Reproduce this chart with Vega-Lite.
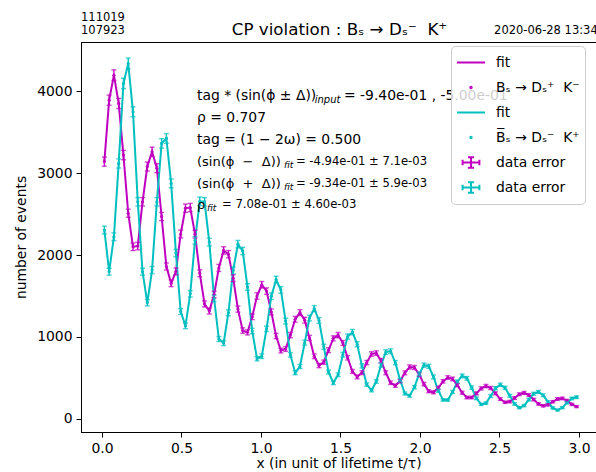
{
"$schema": "https://vega.github.io/schema/vega-lite/v6.json",
"width": 515, "height": 390,
"autosize": "none",
"padding": {"left": 81, "top": 42, "right": 0, "bottom": 40},
"background": "white",
"config": {
 "font": "DejaVu Sans",
 "view": {"stroke": "black", "strokeWidth": 1},
 "axis": {"domainColor": "black", "tickColor": "black", "labelColor": "black", "titleColor": "black", "labelFontSize": 13.9, "titleFontSize": 13.9, "titleFontWeight": "normal", "tickSize": 5, "labelPadding": 4, "grid": false, "domainWidth": 1, "tickWidth": 1, "labelFont": "DejaVu Sans", "titleFont": "DejaVu Sans"}
},
"datasets": {
 "pts": [
{"s":"m","t":0.015,"v":3140,"e":56},{"s":"m","t":0.045,"v":3890,"e":62},{"s":"m","t":0.075,"v":4195,"e":65},{"s":"m","t":0.105,"v":3850,"e":62},{"s":"m","t":0.135,"v":3220,"e":57},{"s":"m","t":0.165,"v":2510,"e":50},{"s":"m","t":0.195,"v":2100,"e":46},{"s":"m","t":0.225,"v":2110,"e":46},{"s":"m","t":0.255,"v":2650,"e":51},{"s":"m","t":0.285,"v":3080,"e":55},
{"s":"m","t":0.315,"v":3260,"e":57},{"s":"m","t":0.345,"v":3060,"e":55},{"s":"m","t":0.375,"v":2470,"e":50},{"s":"m","t":0.405,"v":1860,"e":43},{"s":"m","t":0.435,"v":1655,"e":41},{"s":"m","t":0.465,"v":1800,"e":42},{"s":"m","t":0.495,"v":2257,"e":48},{"s":"m","t":0.525,"v":2572,"e":51},{"s":"m","t":0.555,"v":2579,"e":51},{"s":"m","t":0.585,"v":2255,"e":47},
{"s":"m","t":0.615,"v":1777,"e":42},{"s":"m","t":0.645,"v":1403,"e":37},{"s":"m","t":0.675,"v":1316,"e":36},{"s":"m","t":0.705,"v":1519,"e":39},{"s":"m","t":0.735,"v":1842,"e":43},{"s":"m","t":0.765,"v":2056,"e":45},{"s":"m","t":0.795,"v":2010,"e":45},{"s":"m","t":0.825,"v":1718,"e":41},{"s":"m","t":0.855,"v":1340,"e":37},{"s":"m","t":0.885,"v":1078,"e":33},
{"s":"m","t":0.915,"v":1056,"e":32},{"s":"m","t":0.945,"v":1247,"e":35},{"s":"m","t":0.975,"v":1500,"e":39},{"s":"m","t":1.005,"v":1637,"e":40},{"s":"m","t":1.035,"v":1560,"e":39},{"s":"m","t":1.065,"v":1305,"e":36},{"s":"m","t":1.095,"v":1011,"e":32},{"s":"m","t":1.125,"v":834,"e":29},{"s":"m","t":1.155,"v":853,"e":29},{"s":"m","t":1.185,"v":1023,"e":32},
{"s":"m","t":1.215,"v":1216,"e":35},{"s":"m","t":1.245,"v":1297,"e":36},{"s":"m","t":1.275,"v":1205,"e":35},{"s":"m","t":1.305,"v":988,"e":31},{"s":"m","t":1.335,"v":764,"e":28},{"s":"m","t":1.365,"v":651,"e":26},{"s":"m","t":1.395,"v":692,"e":26},{"s":"m","t":1.425,"v":839,"e":29},{"s":"m","t":1.455,"v":983,"e":31},{"s":"m","t":1.485,"v":1023,"e":32},
{"s":"m","t":1.515,"v":927,"e":30},{"s":"m","t":1.545,"v":746,"e":27},{"s":"m","t":1.575,"v":579,"e":24},{"s":"m","t":1.605,"v":512,"e":23},{"s":"m","t":1.635,"v":565,"e":24},{"s":"m","t":1.665,"v":687,"e":26},{"s":"m","t":1.695,"v":791,"e":28},{"s":"m","t":1.725,"v":803,"e":28},{"s":"m","t":1.755,"v":710,"e":27},{"s":"m","t":1.785,"v":563,"e":24},
{"s":"m","t":1.815,"v":441,"e":21},{"s":"m","t":1.845,"v":406,"e":20},{"s":"m","t":1.875,"v":462,"e":21},{"s":"m","t":1.905,"v":562,"e":24},{"s":"m","t":1.935,"v":634,"e":25},{"s":"m","t":1.965,"v":627,"e":25},{"s":"m","t":1.995,"v":542,"e":23},{"s":"m","t":2.025,"v":424,"e":21},{"s":"m","t":2.055,"v":338,"e":18},{"s":"m","t":2.085,"v":324,"e":18},
{"s":"m","t":2.115,"v":379,"e":19},{"s":"m","t":2.145,"v":458,"e":21},{"s":"m","t":2.175,"v":505,"e":22},{"s":"m","t":2.205,"v":488,"e":22},{"s":"m","t":2.235,"v":412,"e":20},{"s":"m","t":2.265,"v":320,"e":18},{"s":"m","t":2.295,"v":261,"e":16},{"s":"m","t":2.325,"v":261,"e":16},{"s":"m","t":2.355,"v":311,"e":18},{"s":"m","t":2.385,"v":372,"e":19},
{"s":"m","t":2.415,"v":401,"e":20},{"s":"m","t":2.445,"v":377,"e":19},{"s":"m","t":2.475,"v":312,"e":18},{"s":"m","t":2.505,"v":242,"e":16},{"s":"m","t":2.535,"v":203,"e":14},{"s":"m","t":2.565,"v":211,"e":15},{"s":"m","t":2.595,"v":255,"e":16},{"s":"m","t":2.625,"v":301,"e":17},{"s":"m","t":2.655,"v":317,"e":18},{"s":"m","t":2.685,"v":291,"e":17},
{"s":"m","t":2.715,"v":236,"e":15},{"s":"m","t":2.745,"v":183,"e":14},{"s":"m","t":2.775,"v":159,"e":13},{"s":"m","t":2.805,"v":172,"e":13},{"s":"m","t":2.835,"v":209,"e":14},{"s":"m","t":2.865,"v":243,"e":16},{"s":"m","t":2.895,"v":250,"e":16},{"s":"m","t":2.925,"v":223,"e":15},{"s":"m","t":2.955,"v":178,"e":13},{"s":"m","t":2.985,"v":150,"e":12},
{"s":"c","t":0.015,"v":2305,"e":48},{"s":"c","t":0.045,"v":1796,"e":42},{"s":"c","t":0.075,"v":2223,"e":47},{"s":"c","t":0.105,"v":3118,"e":56},{"s":"c","t":0.135,"v":4094,"e":64},{"s":"c","t":0.165,"v":4338,"e":66},{"s":"c","t":0.195,"v":3748,"e":61},{"s":"c","t":0.225,"v":2650,"e":51},{"s":"c","t":0.255,"v":1796,"e":42},{"s":"c","t":0.285,"v":1417,"e":38},
{"s":"c","t":0.315,"v":1817,"e":43},{"s":"c","t":0.345,"v":2650,"e":51},{"s":"c","t":0.375,"v":3362,"e":58},{"s":"c","t":0.405,"v":3423,"e":59},{"s":"c","t":0.435,"v":2874,"e":54},{"s":"c","t":0.465,"v":2024,"e":45},{"s":"c","t":0.495,"v":1310,"e":36},{"s":"c","t":0.525,"v":1135,"e":34},{"s":"c","t":0.555,"v":1526,"e":39},{"s":"c","t":0.585,"v":2179,"e":47},
{"s":"c","t":0.615,"v":2656,"e":52},{"s":"c","t":0.645,"v":2650,"e":51},{"s":"c","t":0.675,"v":2158,"e":46},{"s":"c","t":0.705,"v":1470,"e":38},{"s":"c","t":0.735,"v":975,"e":31},{"s":"c","t":0.765,"v":925,"e":30},{"s":"c","t":0.795,"v":1295,"e":36},{"s":"c","t":0.825,"v":1812,"e":43},{"s":"c","t":0.855,"v":2132,"e":46},{"s":"c","t":0.885,"v":2049,"e":45},
{"s":"c","t":0.915,"v":1610,"e":40},{"s":"c","t":0.945,"v":1072,"e":33},{"s":"c","t":0.975,"v":735,"e":27},{"s":"c","t":1.005,"v":765,"e":28},{"s":"c","t":1.035,"v":1099,"e":33},{"s":"c","t":1.065,"v":1498,"e":39},{"s":"c","t":1.095,"v":1700,"e":41},{"s":"c","t":1.125,"v":1574,"e":40},{"s":"c","t":1.155,"v":1194,"e":35},{"s":"c","t":1.185,"v":781,"e":28},
{"s":"c","t":1.215,"v":563,"e":24},{"s":"c","t":1.245,"v":639,"e":25},{"s":"c","t":1.275,"v":930,"e":30},{"s":"c","t":1.305,"v":1231,"e":35},{"s":"c","t":1.335,"v":1346,"e":37},{"s":"c","t":1.365,"v":1201,"e":35},{"s":"c","t":1.395,"v":881,"e":30},{"s":"c","t":1.425,"v":571,"e":24},{"s":"c","t":1.455,"v":439,"e":21},{"s":"c","t":1.485,"v":539,"e":23},
{"s":"c","t":1.515,"v":783,"e":28},{"s":"c","t":1.545,"v":1005,"e":32},{"s":"c","t":1.575,"v":1059,"e":33},{"s":"c","t":1.605,"v":911,"e":30},{"s":"c","t":1.635,"v":647,"e":25},{"s":"c","t":1.665,"v":419,"e":20},{"s":"c","t":1.695,"v":349,"e":19},{"s":"c","t":1.725,"v":456,"e":21},{"s":"c","t":1.755,"v":657,"e":26},{"s":"c","t":1.785,"v":815,"e":29},
{"s":"c","t":1.815,"v":827,"e":29},{"s":"c","t":1.845,"v":686,"e":26},{"s":"c","t":1.875,"v":473,"e":22},{"s":"c","t":1.905,"v":310,"e":18},{"s":"c","t":1.935,"v":282,"e":17},{"s":"c","t":1.965,"v":387,"e":20},{"s":"c","t":1.995,"v":548,"e":23},{"s":"c","t":2.025,"v":656,"e":26},{"s":"c","t":2.055,"v":642,"e":25},{"s":"c","t":2.085,"v":513,"e":23},
{"s":"c","t":2.115,"v":345,"e":19},{"s":"c","t":2.145,"v":232,"e":15},{"s":"c","t":2.175,"v":231,"e":15},{"s":"c","t":2.205,"v":329,"e":18},{"s":"c","t":2.235,"v":454,"e":21},{"s":"c","t":2.265,"v":525,"e":23},{"s":"c","t":2.295,"v":495,"e":22},{"s":"c","t":2.325,"v":382,"e":20},{"s":"c","t":2.355,"v":251,"e":16},{"s":"c","t":2.385,"v":177,"e":13},
{"s":"c","t":2.415,"v":192,"e":14},{"s":"c","t":2.445,"v":279,"e":17},{"s":"c","t":2.475,"v":374,"e":19},{"s":"c","t":2.505,"v":417,"e":20},{"s":"c","t":2.535,"v":379,"e":19},{"s":"c","t":2.565,"v":282,"e":17},{"s":"c","t":2.595,"v":183,"e":14},{"s":"c","t":2.625,"v":136,"e":12},{"s":"c","t":2.655,"v":162,"e":13},{"s":"c","t":2.685,"v":235,"e":15},
{"s":"c","t":2.715,"v":307,"e":18},{"s":"c","t":2.745,"v":329,"e":18},{"s":"c","t":2.775,"v":288,"e":17},{"s":"c","t":2.805,"v":208,"e":14},{"s":"c","t":2.835,"v":134,"e":12},{"s":"c","t":2.865,"v":107,"e":10},{"s":"c","t":2.895,"v":137,"e":12},{"s":"c","t":2.925,"v":198,"e":14},{"s":"c","t":2.955,"v":249,"e":16},{"s":"c","t":2.985,"v":265,"e":16}
 ],
 "notes": [
  {"kind":"big","t":0.5975,"v":3939,"txt":"tag * (sin(ϕ ± Δ))"},
  {"kind":"sub","t":1.338,"v":3939,"txt":"input"},
  {"kind":"big","t":1.522,"v":3939,"txt":"= -9.40e-01 , -5.00e-01"},
  {"kind":"big","t":0.5975,"v":3671,"txt":"ρ = 0.707"},
  {"kind":"big","t":0.5975,"v":3402,"txt":"tag = (1 − 2ω) = 0.500"},
  {"kind":"math","t":0.5975,"v":3134,"txt":"(sin(ϕ\u00a0\u00a0−\u00a0\u00a0Δ))"},
  {"kind":"subs","t":1.145,"v":3134,"txt":"fit"},
  {"kind":"small","t":1.220,"v":3134,"txt":"= -4.94e-01 ± 7.1e-03"},
  {"kind":"math","t":0.5975,"v":2866,"txt":"(sin(ϕ\u00a0\u00a0+\u00a0\u00a0Δ))"},
  {"kind":"subs","t":1.145,"v":2866,"txt":"fit"},
  {"kind":"small","t":1.220,"v":2866,"txt":"= -9.34e-01 ± 5.9e-03"},
  {"kind":"math","t":0.5975,"v":2610,"txt":"ρ"},
  {"kind":"subs","t":0.660,"v":2610,"txt":"fit"},
  {"kind":"small","t":0.755,"v":2610,"txt":"= 7.08e-01 ± 4.60e-03"}
 ],
 "fig": [
  {"kind":"id","t":-0.132,"v":4897,"txt":"111019"},
  {"kind":"id","t":-0.132,"v":4735,"txt":"107923"},
  {"kind":"id","t":2.466,"v":4735,"txt":"2020-06-28 13:34"},
  {"kind":"title","t":1.4937,"v":4686,"txt":"CP violation : Bₛ → Dₛ⁻\u00a0\u00a0K⁺"}
 ],
 "leg": [
  {"entry":"fit"},{"entry":"Bₛ → Dₛ⁺\u00a0\u00a0K⁻"},{"entry":"fit "},{"entry":"B̅ₛ → Dₛ⁻\u00a0\u00a0K⁺\u00a0\u00a0"},{"entry":"data error"},{"entry":"data error "}
 ]
},
"layer": [
 {
  "data": {"name": "pts"},
  "mark": {"type": "line", "strokeWidth": 2},
  "encoding": {
   "x": {"field": "t", "type": "quantitative", "title": "x (in unit of lifetime t/τ)", "scale": {"domain": [-0.132, 3.107], "nice": false, "zero": false}, "axis": {"values": [0, 0.5, 1, 1.5, 2, 2.5, 3], "format": ".1f", "titlePadding": 2}},
   "y": {"field": "v", "type": "quantitative", "title": "number of events", "scale": {"domain": [-160, 4600], "nice": false, "zero": false}, "axis": {"values": [0, 1000, 2000, 3000, 4000], "format": "d", "titlePadding": 8}},
   "color": {"field": "s", "type": "nominal", "scale": {"domain": ["m", "c"], "range": ["#bf00bf", "#00bfbf"]}, "legend": null}
  }
 },
 {
  "data": {"name": "pts"},
  "mark": {"type": "point", "filled": true, "size": 10, "opacity": 1},
  "encoding": {
   "x": {"field": "t", "type": "quantitative", "title": "x (in unit of lifetime t/τ)"},
   "y": {"field": "v", "type": "quantitative", "title": "number of events"},
   "color": {"field": "s", "type": "nominal", "legend": null}
  }
 },
 {
  "data": {"name": "pts"},
  "mark": {"type": "errorbar", "ticks": {"size": 5}, "thickness": 1.4},
  "encoding": {
   "x": {"field": "t", "type": "quantitative", "title": "x (in unit of lifetime t/τ)"},
   "y": {"field": "v", "type": "quantitative", "title": "number of events"},
   "yError": {"field": "e"},
   "color": {"field": "s", "type": "nominal", "legend": null}
  }
 },
 {
  "data": {"name": "pts"},
  "mark": {"type": "errorbar", "ticks": {"size": 4}, "thickness": 1.4},
  "encoding": {
   "y": {"field": "v", "type": "quantitative", "title": "number of events"},
   "x": {"field": "t", "type": "quantitative", "title": "x (in unit of lifetime t/τ)"},
   "xError": {"value": 0.015},
   "color": {"field": "s", "type": "nominal", "legend": null}
  }
 },
 {
  "data": {"name": "notes"},
  "transform": [{"filter": "datum.kind == 'big'"}],
  "mark": {"type": "text", "align": "left", "baseline": "middle", "fontSize": 13.9, "color": "black"},
  "encoding": {"x": {"field": "t", "type": "quantitative"}, "y": {"field": "v", "type": "quantitative"}, "text": {"field": "txt"}}
 },
 {
  "data": {"name": "notes"},
  "transform": [{"filter": "datum.kind == 'math'"}],
  "mark": {"type": "text", "align": "left", "baseline": "middle", "fontSize": 13, "color": "black"},
  "encoding": {"x": {"field": "t", "type": "quantitative"}, "y": {"field": "v", "type": "quantitative"}, "text": {"field": "txt"}}
 },
 {
  "data": {"name": "notes"},
  "transform": [{"filter": "datum.kind == 'small'"}],
  "mark": {"type": "text", "align": "left", "baseline": "middle", "fontSize": 11.6, "color": "black"},
  "encoding": {"x": {"field": "t", "type": "quantitative"}, "y": {"field": "v", "type": "quantitative"}, "text": {"field": "txt"}}
 },
 {
  "data": {"name": "notes"},
  "transform": [{"filter": "datum.kind == 'sub'"}],
  "mark": {"type": "text", "align": "left", "baseline": "middle", "fontSize": 10, "fontStyle": "italic", "dy": 4, "color": "black"},
  "encoding": {"x": {"field": "t", "type": "quantitative"}, "y": {"field": "v", "type": "quantitative"}, "text": {"field": "txt"}}
 },
 {
  "data": {"name": "notes"},
  "transform": [{"filter": "datum.kind == 'subs'"}],
  "mark": {"type": "text", "align": "left", "baseline": "middle", "fontSize": 9, "fontStyle": "italic", "dy": 3, "color": "black"},
  "encoding": {"x": {"field": "t", "type": "quantitative"}, "y": {"field": "v", "type": "quantitative"}, "text": {"field": "txt"}}
 },
 {
  "data": {"name": "fig"},
  "transform": [{"filter": "datum.kind == 'id'"}],
  "mark": {"type": "text", "align": "left", "baseline": "middle", "fontSize": 11.5, "color": "black"},
  "encoding": {"x": {"field": "t", "type": "quantitative"}, "y": {"field": "v", "type": "quantitative"}, "text": {"field": "txt"}}
 },
 {
  "data": {"name": "fig"},
  "transform": [{"filter": "datum.kind == 'title'"}],
  "mark": {"type": "text", "align": "center", "baseline": "alphabetic", "fontSize": 16.7, "color": "black"},
  "encoding": {"x": {"field": "t", "type": "quantitative"}, "y": {"field": "v", "type": "quantitative"}, "text": {"field": "txt"}}
 },
 {
  "data": {"name": "leg"},
  "mark": {"type": "point", "filled": false, "opacity": 0},
  "encoding": {
   "shape": {"field": "entry", "type": "nominal",
     "scale": {"domain": ["fit", "Bₛ → Dₛ⁺\u00a0\u00a0K⁻", "fit ", "B̅ₛ → Dₛ⁻\u00a0\u00a0K⁺\u00a0\u00a0", "data error", "data error "],
       "range": ["M-1,0H1", "M-0.05,0A0.05,0.05,0,1,1,0.05,0A0.05,0.05,0,1,1,-0.05,0Z", "M-1,0H1", "M-0.05,0A0.05,0.05,0,1,1,0.05,0A0.05,0.05,0,1,1,-0.05,0Z", "M-0.6,0H0.6M0,-0.38V0.38M-0.6,-0.2V0.2M0.6,-0.2V0.2M-0.22,-0.38H0.22M-0.22,0.38H0.22", "M-0.6,0H0.6M0,-0.38V0.38M-0.6,-0.2V0.2M0.6,-0.2V0.2M-0.22,-0.38H0.22M-0.22,0.38H0.22"]},
     "legend": {"title": null, "orient": "none", "legendX": 370, "legendY": 4, "symbolSize": 784, "symbolStrokeWidth": 2, "symbolOpacity": 1, "labelFontSize": 13.9, "labelFont": "DejaVu Sans", "labelColor": "black", "labelOffset": 10, "clipHeight": 23, "rowPadding": 2, "padding": 5, "fillColor": "rgba(255,255,255,0.8)", "strokeColor": "#cccccc", "cornerRadius": 4, "labelLimit": 300}},
   "stroke": {"field": "entry", "type": "nominal",
     "scale": {"domain": ["fit", "Bₛ → Dₛ⁺\u00a0\u00a0K⁻", "fit ", "B̅ₛ → Dₛ⁻\u00a0\u00a0K⁺\u00a0\u00a0", "data error", "data error "],
       "range": ["#bf00bf", "#bf00bf", "#00bfbf", "#00bfbf", "#bf00bf", "#00bfbf"]},
     "legend": {"title": null, "orient": "none", "legendX": 370, "legendY": 4, "symbolSize": 784, "symbolStrokeWidth": 2, "symbolOpacity": 1, "labelFontSize": 13.9, "labelFont": "DejaVu Sans", "labelColor": "black", "labelOffset": 10, "clipHeight": 23, "rowPadding": 2, "padding": 5, "fillColor": "rgba(255,255,255,0.8)", "strokeColor": "#cccccc", "cornerRadius": 4, "labelLimit": 300}}
  }
 }
]
}
